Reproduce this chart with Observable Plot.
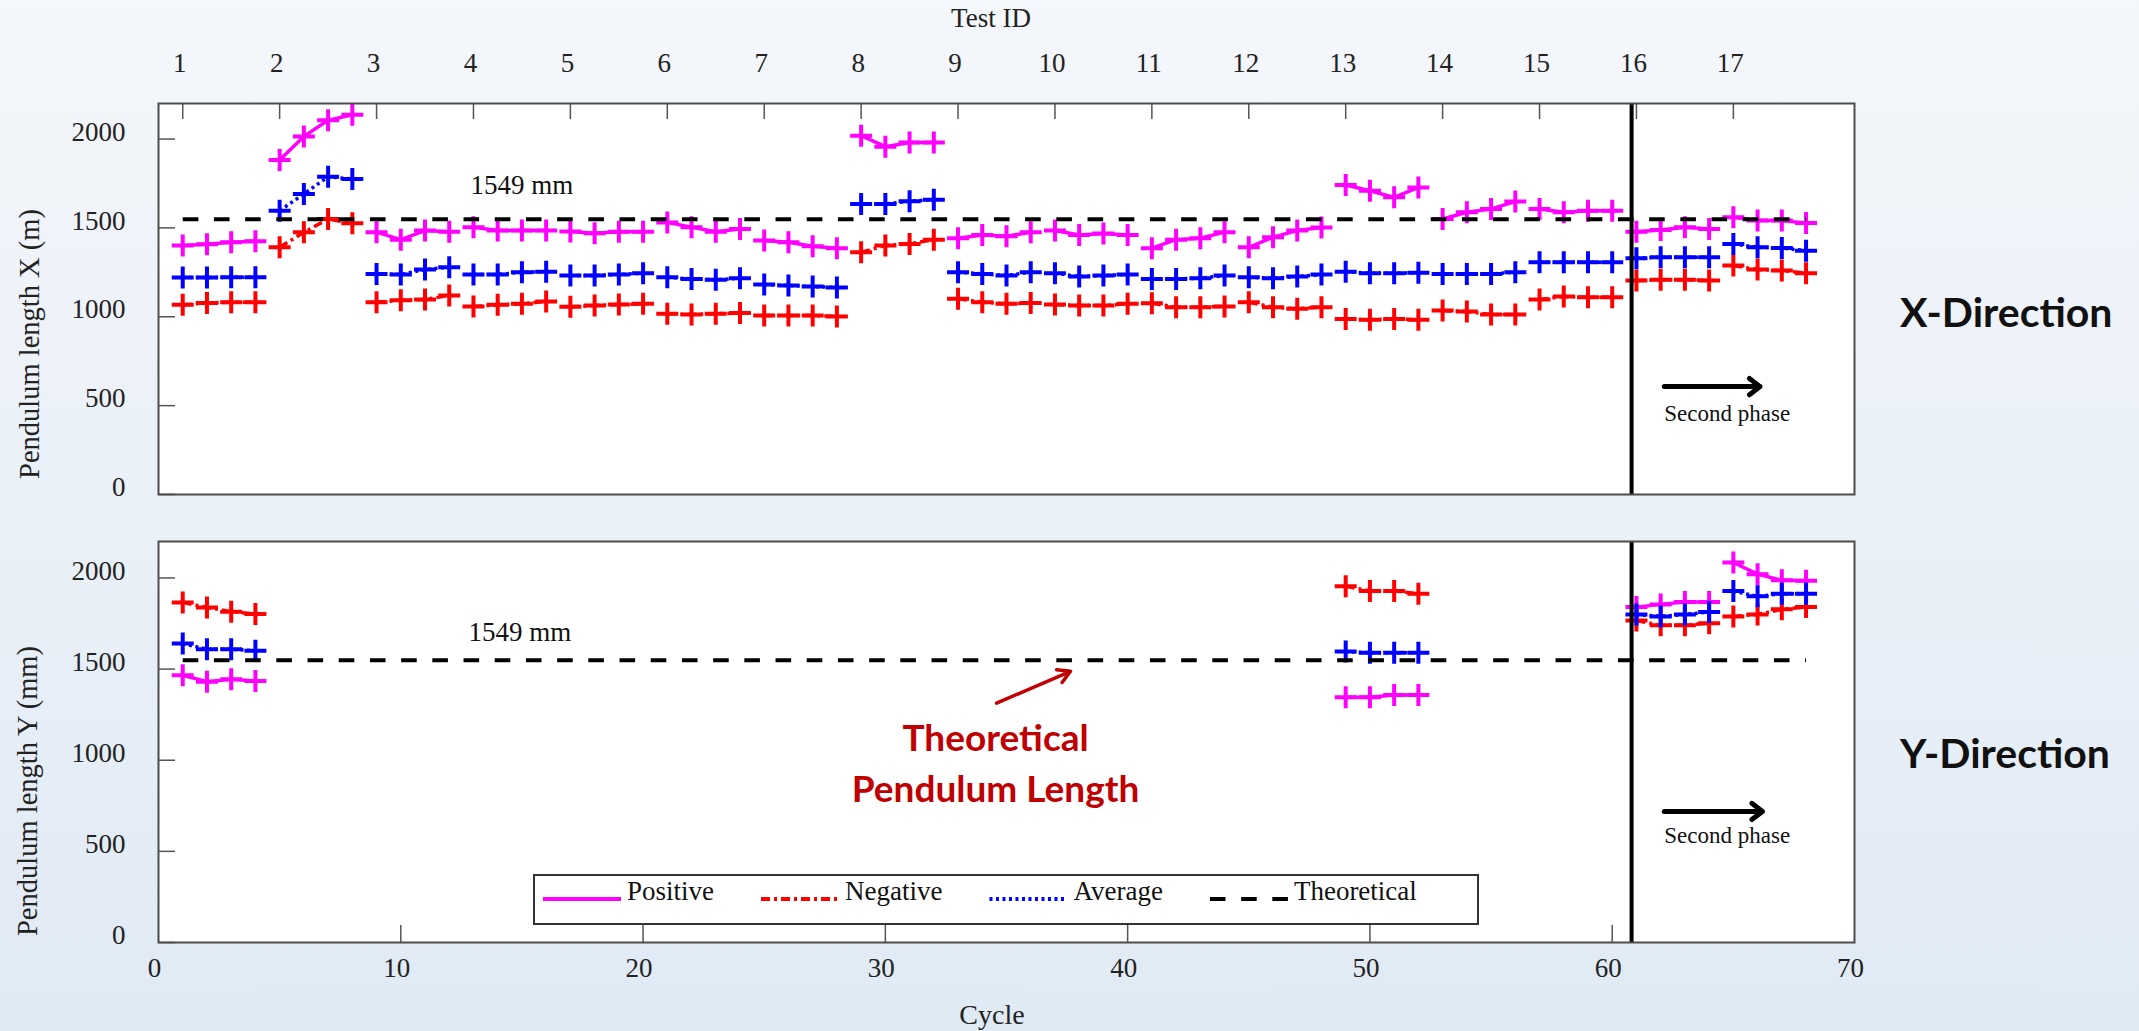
<!DOCTYPE html>
<html>
<head>
<meta charset="utf-8">
<script src="https://cdn.jsdelivr.net/npm/d3@7"></script>
<script src="https://cdn.jsdelivr.net/npm/@observablehq/plot@0.6"></script>
<style>
  html, body { margin: 0; padding: 0; }
  body {
    width: 2139px; height: 1031px; overflow: hidden;
    background: linear-gradient(180deg, #f4f7fb 0%, #e0eaf5 100%);
    font-family: "Liberation Serif", "Times New Roman", serif; color: #222;
  }
  #chart { position: relative; width: 2139px; height: 1031px; }
  .abs { position: absolute; white-space: nowrap; line-height: 1; }
  .center { transform: translate(-50%, -50%); }
  .ytitle { font-size: 28.5px; transform: translate(-50%, -50%) rotate(-90deg); }
  .dir { font-family: Lato, "Open Sans", sans-serif; font-weight: 700; font-size: 41px; color: #111; transform: translateY(-50%); }
</style>
</head>
<body>
<div id="chart"></div>
<script>
// ---- data -------------------------------------------------------------
// 17 tests, 4 cycles each (cycles 1..68)
const cycles = d3.range(1, 69);
const testIds = d3.range(1, 18);
const cyclesPerTest = 4;
const theoreticalLength = 1549;   // mm
const phaseStart = 60.8;          // start of the second test phase (cycle axis)

// X-direction pendulum length per cycle
const xPositive = [
  1401, 1408, 1419, 1425,  1882, 2015, 2106, 2136,  1476, 1434, 1485, 1479,
  1504, 1485, 1485, 1485,  1480, 1470, 1478, 1478,  1531, 1504, 1479, 1494,
  1429, 1419, 1397, 1386,  2019, 1957, 1981, 1981,  1442, 1460, 1453, 1476,
  1485, 1460, 1469, 1460,  1386, 1434, 1442, 1476,  1391, 1448, 1485, 1502,
  1741, 1709, 1672, 1728,  1550, 1588, 1607, 1648,  1607, 1588, 1597, 1597,
  1479, 1488, 1504, 1494,  1560, 1541, 1541, 1528
];
const xNegative = [
  1067, 1078, 1082, 1082,  1391, 1475, 1550, 1526,  1082, 1093, 1097, 1120,
  1058, 1067, 1073, 1086,  1056, 1063, 1069, 1073,  1017, 1013, 1017, 1021,
  1007, 1007, 1007, 1002,  1363, 1401, 1410, 1434,  1101, 1082, 1073, 1078,
  1069, 1063, 1063, 1073,  1076, 1054, 1054, 1058,  1082, 1054, 1045, 1054,
   988,  983,  988,  983,  1035, 1030, 1013, 1013,  1097, 1114, 1110, 1110,
  1204, 1209, 1209, 1204,  1288, 1266, 1260, 1245
];
const xAverage = [
  1221, 1221, 1222, 1222,  1597, 1691, 1788, 1775,  1241, 1238, 1266, 1279,
  1238, 1238, 1251, 1254,  1232, 1232, 1238, 1245,  1222, 1213, 1208, 1217,
  1181, 1176, 1170, 1165,  1635, 1635, 1650, 1659,  1251, 1241, 1232, 1251,
  1245, 1226, 1232, 1238,  1213, 1213, 1217, 1232,  1222, 1217, 1226, 1238,
  1254, 1245, 1245, 1247,  1241, 1241, 1241, 1251,  1307, 1307, 1307, 1307,
  1329, 1335, 1335, 1335,  1410, 1391, 1387, 1372
];

// Y-direction was only measured in these tests
const yTests = [1, 13, 16, 17];
const yPositive = [1466, 1431, 1444, 1435,  1345, 1345, 1358, 1358,  1840, 1855, 1868, 1868,  2085, 2021, 1987, 1984];
const yNegative = [1866, 1838, 1815, 1802,  1954, 1929, 1929, 1914,  1767, 1740, 1740, 1752,  1789, 1800, 1828, 1840];
const yAverage  = [1640, 1609, 1609, 1600,  1596, 1589, 1589, 1589,  1800, 1789, 1800, 1813,  1928, 1899, 1914, 1914];

const lengthTicks = [0, 500, 1000, 1500, 2000];
const cycleTicks = [0, 10, 20, 30, 40, 50, 60, 70];

// ---- tables -----------------------------------------------------------
const testOf = c => Math.ceil(c / cyclesPerTest);
const testStarts = testIds.map(t => cycles.find(c => testOf(c) === t));
const testLabel = new Map(testStarts.map((c, i) => [c, String(testIds[i])]));
const yCycles = cycles.filter(c => yTests.includes(testOf(c)));

function table(series, values, cyc) {
  return values.map((v, i) => ({series, cycle: cyc[i], test: testOf(cyc[i]), value: v}));
}
const xRows = [
  ...table("Positive", xPositive, cycles),
  ...table("Negative", xNegative, cycles),
  ...table("Average", xAverage, cycles)
];
const yRows = [
  ...table("Positive", yPositive, yCycles),
  ...table("Negative", yNegative, yCycles),
  ...table("Average", yAverage, yCycles)
];
const theory = [
  {cycle: d3.min(cycles), value: theoreticalLength},
  {cycle: d3.max(cycles), value: theoreticalLength}
];

// ---- styles -----------------------------------------------------------
const SERIF = "Liberation Serif, Times New Roman, serif";
const SANS = "Lato, Open Sans, sans-serif";
const seriesNames = ["Positive", "Negative", "Average"];
const styles = {
  Positive: {color: "#ff00ff", dash: undefined},
  Negative: {color: "#ff0000", dash: "9,4,3,4"},
  Average:  {color: "#0000ff", dash: "3,3.5"}
};
const THEORY_DASH = "15.6,15.6";
const plain = d => String(d);

// "+" marker drawn as two strokes; size = π r²
const plusSymbol = {
  draw(ctx, size) {
    const r = Math.sqrt(size / Math.PI);
    ctx.moveTo(-r, 0); ctx.lineTo(r, 0);
    ctx.moveTo(0, -r); ctx.lineTo(0, r);
  }
};

const W = 2139, ML = 158, MR = 285;
const innerW = W - ML - MR;

function seriesMarks(rows) {
  return seriesNames.flatMap(name => {
    const s = rows.filter(d => d.series === name);
    const st = styles[name];
    return [
      Plot.line(s, {x: "cycle", y: "value", z: "test", stroke: st.color, strokeWidth: 3.5,
        strokeDasharray: st.dash, strokeLinecap: "butt", strokeLinejoin: "round"}),
      Plot.dot(s, {x: "cycle", y: "value", symbol: plusSymbol, r: 11, stroke: st.color,
        strokeWidth: 4, fill: "none"})
    ];
  });
}

function referenceMarks() {
  return [
    Plot.line(theory, {x: "cycle", y: "value", stroke: "black", strokeWidth: 4,
      strokeDasharray: THEORY_DASH, strokeLinecap: "butt"}),
    Plot.ruleX([phaseStart], {stroke: "black", strokeWidth: 4})
  ];
}

// arrow wings scale with stroke width (length = headLength / 1.5 × strokeWidth)
function secondPhase(arrowAt, textAt) {
  return [
    Plot.arrow([arrowAt], {x1: "x1", y1: "y", x2: "x2", y2: "y", stroke: "black",
      strokeWidth: 5, headLength: 4, headAngle: 75, bend: 0, inset: 0}),
    Plot.text([textAt], {x: "x", y: "y", text: () => "Second phase", textAnchor: "start",
      lineAnchor: "middle", fontSize: 23, fontFamily: SERIF, fill: "#111"})
  ];
}

const baseStyle = {background: "transparent", overflow: "visible", maxWidth: "none",
  fontFamily: SERIF, fontSize: "27px", color: "#222"};

// ---- X-direction panel ------------------------------------------------
const topH = 520, topMT = 103, topMB = 26;
const topInnerH = topH - topMT - topMB;
const topPlot = Plot.plot({
  width: W, height: topH, marginLeft: ML, marginRight: MR, marginTop: topMT, marginBottom: topMB,
  x: {domain: [0, 70]}, y: {domain: [0, 2200]},
  style: baseStyle,
  marks: [
    Plot.frame({fill: "white", stroke: "none"}),
    ...seriesMarks(xRows),
    ...referenceMarks(),
    Plot.tickX(testStarts, {insetBottom: topInnerH - 16, stroke: "#555", strokeWidth: 1.5}),
    Plot.tickY(lengthTicks, {insetRight: innerW - 17, stroke: "#555", strokeWidth: 1.5}),
    Plot.frame({stroke: "#4d4d4d", strokeWidth: 2}),
    Plot.axisX({anchor: "top", ticks: testStarts, tickFormat: c => testLabel.get(c),
      tickSize: 0, tickPadding: 32, dx: -3, label: null}),
    Plot.axisY({ticks: lengthTicks, tickFormat: plain, tickSize: 0, tickPadding: 33, dy: -7, label: null}),
    Plot.text([{x: 12.88, y: 1738}], {x: "x", y: "y", text: () => `${theoreticalLength} mm`,
      textAnchor: "start", lineAnchor: "middle", fontSize: 27, fontFamily: SERIF, fill: "#111"}),
    ...secondPhase({x1: 62.15, x2: 66.1, y: 607}, {x: 62.15, y: 457})
  ]
});

// ---- Y-direction panel ------------------------------------------------
const botH = 511, botMT = 21, botMB = 89;
const botInnerH = botH - botMT - botMB;
const botPlot = Plot.plot({
  width: W, height: botH, marginLeft: ML, marginRight: MR, marginTop: botMT, marginBottom: botMB,
  x: {domain: [0, 70]}, y: {domain: [0, 2200]},
  style: baseStyle,
  marks: [
    Plot.frame({fill: "white", stroke: "none"}),
    ...seriesMarks(yRows),
    ...referenceMarks(),
    Plot.tickX(cycleTicks.slice(1, -1), {insetTop: botInnerH - 17, stroke: "#555", strokeWidth: 1.5}),
    Plot.tickY(lengthTicks, {insetRight: innerW - 17, stroke: "#555", strokeWidth: 1.5}),
    Plot.frame({stroke: "#4d4d4d", strokeWidth: 2}),
    Plot.axisX({anchor: "bottom", ticks: cycleTicks, tickFormat: plain, tickSize: 0, tickPadding: 15, dx: -4, label: null}),
    Plot.axisY({ticks: lengthTicks, tickFormat: plain, tickSize: 0, tickPadding: 33, dy: -7, label: null}),
    Plot.text([{x: 12.79, y: 1701}], {x: "x", y: "y", text: () => `${theoreticalLength} mm`,
      textAnchor: "start", lineAnchor: "middle", fontSize: 27, fontFamily: SERIF, fill: "#111"}),
    ...secondPhase({x1: 62.15, x2: 66.2, y: 719}, {x: 62.15, y: 587}),
    // callout for the dashed reference line
    Plot.arrow([{x1: 34.59, y1: 1313, x2: 37.64, y2: 1488}], {x1: "x1", y1: "y1", x2: "x2", y2: "y2",
      stroke: "#c00000", strokeWidth: 3.5, headLength: 6, headAngle: 60, bend: 0, inset: 0}),
    Plot.text([{x: 34.55, y: 1117, t: "Theoretical"}, {x: 34.55, y: 834, t: "Pendulum Length"}],
      {x: "x", y: "y", text: "t", lineAnchor: "middle", fontSize: 37, fontFamily: SANS,
       fontWeight: "bold", fill: "#c00000"})
  ]
});

// ---- assemble ---------------------------------------------------------
const chart = document.getElementById("chart");
function place(node, left, top) {
  const wrap = document.createElement("div");
  wrap.className = "abs";
  wrap.style.left = left + "px";
  wrap.style.top = top + "px";
  wrap.appendChild(node);
  chart.appendChild(wrap);
  return wrap;
}
place(topPlot, 0, 0);
place(botPlot, 0, 520);

function label(text, cls, left, top) {
  const d = document.createElement("div");
  d.className = "abs " + cls;
  d.style.left = left + "px";
  d.style.top = top + "px";
  d.textContent = text;
  chart.appendChild(d);
  return d;
}
label("Test ID", "center", 991, 18).style.fontSize = "27px";
label("Cycle", "center", 992, 1015).style.fontSize = "28px";
label("Pendulum length X (m)", "ytitle", 30, 344);
label("Pendulum length Y (mm)", "ytitle", 28, 791);
label("X-Direction", "dir", 1900, 311);
label("Y-Direction", "dir", 1900, 752);

// legend: line swatch followed by its name, baseline-aligned
const legendItems = [
  ...seriesNames.map(n => ({name: n, color: styles[n].color, dash: styles[n].dash})),
  {name: "Theoretical", color: "black", dash: THEORY_DASH}
];
const legendSvg = d3.create("svg").attr("width", 944).attr("height", 49)
  .style("display", "block").style("overflow", "visible");
legendSvg.append("rect").attr("x", 0).attr("y", 0).attr("width", 944).attr("height", 49)
  .attr("fill", "white").attr("stroke", "#333").attr("stroke-width", 2);
place(legendSvg.node(), 534, 875);
let lx = 9;
for (const item of legendItems) {
  legendSvg.append("line").attr("x1", lx).attr("x2", lx + 78).attr("y1", 24).attr("y2", 24)
    .attr("stroke", item.color).attr("stroke-width", 4)
    .attr("stroke-dasharray", item.dash || null);
  const t = legendSvg.append("text").attr("x", lx + 84).attr("y", 25)
    .attr("font-family", SERIF).attr("font-size", 27).attr("fill", "#111").text(item.name);
  lx += 84 + t.node().getComputedTextLength() + 47;
}
</script>
</body>
</html>
